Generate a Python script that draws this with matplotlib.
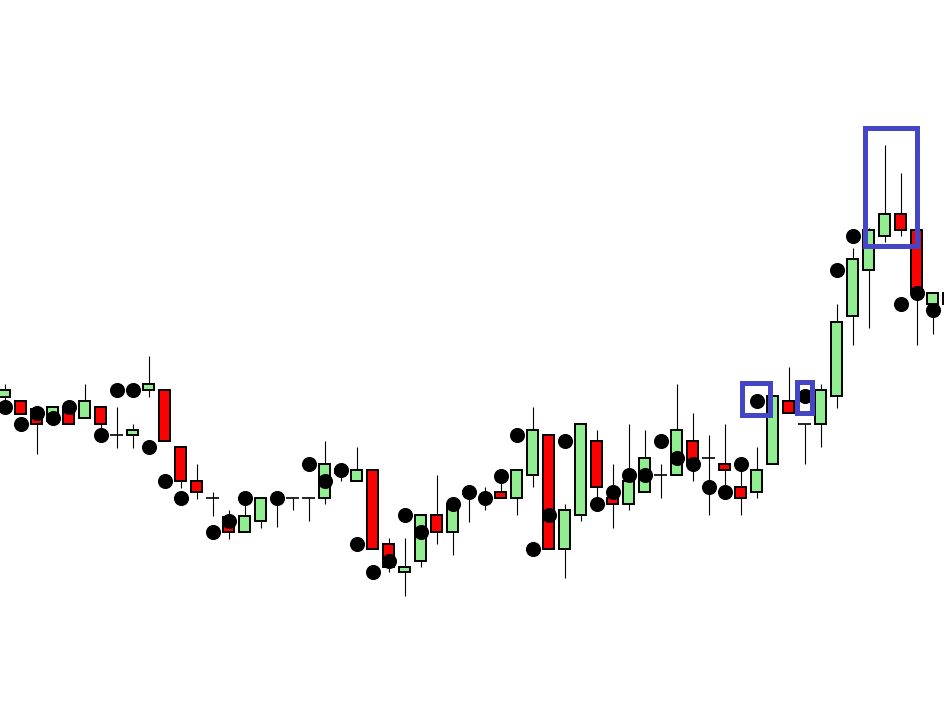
import numpy as np
import matplotlib
matplotlib.use("Agg")
import matplotlib.pyplot as plt
from matplotlib.patches import Rectangle

# OHLC data (arbitrary price units)
opens  = [305, 301, 293, 281, 292, 284, 295, 267, 267, 312,
          312, 255, 221, 204, 185, 170, 181, 204, 204, 204,
          204, 233, 221, 232, 158, 130, 141, 187, 170, 208,
          204, 210, 204, 227, 267, 153, 187, 261, 204, 198,
          210, 227, 227, 261, 244, 238, 215, 210, 238, 301,
          278, 278, 306, 386, 432, 466, 488, 472, 398, 409]
closes = [312, 288, 278, 295, 278, 301, 278, 267, 272, 318,
          261, 221, 210, 204, 170, 186, 204, 204, 204, 204,
          238, 229, 232, 153, 135, 135, 187, 170, 196, 211,
          204, 204, 232, 272, 153, 192, 278, 215, 198, 221,
          244, 227, 272, 240, 244, 232, 204, 232, 306, 289,
          278, 312, 380, 443, 472, 488, 472, 410, 409, 398]
highs  = [318, 301, 293, 295, 292, 318, 295, 295, 278, 346,
          312, 255, 238, 210, 192, 200, 204, 204, 204, 204,
          261, 233, 255, 232, 164, 164, 187, 227, 198, 211,
          215, 220, 232, 295, 267, 198, 278, 272, 238, 278,
          272, 238, 318, 289, 267, 278, 232, 255, 306, 335,
          278, 318, 398, 454, 474, 557, 529, 472, 409, 409]
lows   = [300, 288, 248, 281, 278, 284, 272, 254, 254, 305,
          261, 214, 203, 186, 163, 170, 174, 175, 192, 181,
          198, 221, 221, 153, 130, 106, 135, 158, 147, 180,
          192, 204, 187, 215, 153, 124, 181, 202, 174, 192,
          210, 204, 227, 221, 187, 217, 187, 204, 238, 289,
          238, 255, 294, 357, 374, 460, 466, 357, 368, 398]
sar    = [295, 278, 289, 284, 295, np.nan, 267, 312, 312, 255,
          221, 204, np.nan, 170, 181, 204, np.nan, 204, np.nan, 238,
          221, 232, 158, 130, 141, 187, 170, np.nan, 198, 210,
          204, 226, 267, 153, 187, 261, np.nan, 198, 210, 227,
          227, 261, 244, 238, 215, 210, 238, 301, np.nan, np.nan,
          306, np.nan, 432, 466, np.nan, np.nan, 398, 409, 392, np.nan]

# highlighted regions: (x0, x1, y0, y1) in candle-index / price units
boxes = [(46.12, 47.86, 287.2, 318.8),
         (49.52, 50.46, 289.2, 320.2),
         (53.79, 57.06, 456.2, 574.5)]

o = np.array(opens, float)
c = np.array(closes, float)
h = np.array(highs, float)
l = np.array(lows, float)
x = np.arange(len(o))

fig = plt.figure(figsize=(9.45, 7.02), dpi=100)
ax = fig.add_axes([0, 0, 1, 1])
ax.set_xlim(-4.5 / 16, (945 - 4.5) / 16)
ax.set_ylim(0, 702)
ax.axis("off")

wick_lw = 0.8
edge_lw = 1.4
ax.vlines(x, l, h, color="black", linewidth=wick_lw, zorder=1)

up = c > o
down = c < o
doji = c == o
bw = 0.65
ax.bar(x[up], (c - o)[up], bottom=o[up], width=bw, color="#90EE90",
       edgecolor="black", linewidth=edge_lw, zorder=2)
ax.bar(x[down], (o - c)[down], bottom=c[down], width=bw, color="#FF0000",
       edgecolor="black", linewidth=edge_lw, zorder=2)
ax.hlines(o[doji], x[doji] - 0.38, x[doji] + 0.38, color="black",
          linewidth=1.2, zorder=2)

ax.scatter(x, sar, s=118, color="black", zorder=3, linewidths=0)

for (x0, x1, y0, y1) in boxes:
    ax.add_patch(Rectangle((x0, y0), x1 - x0, y1 - y0, fill=False,
                           edgecolor="#4545C8", linewidth=3.6,
                           joinstyle="miter", zorder=4))

fig.savefig("out.png", dpi=100, facecolor="white")
